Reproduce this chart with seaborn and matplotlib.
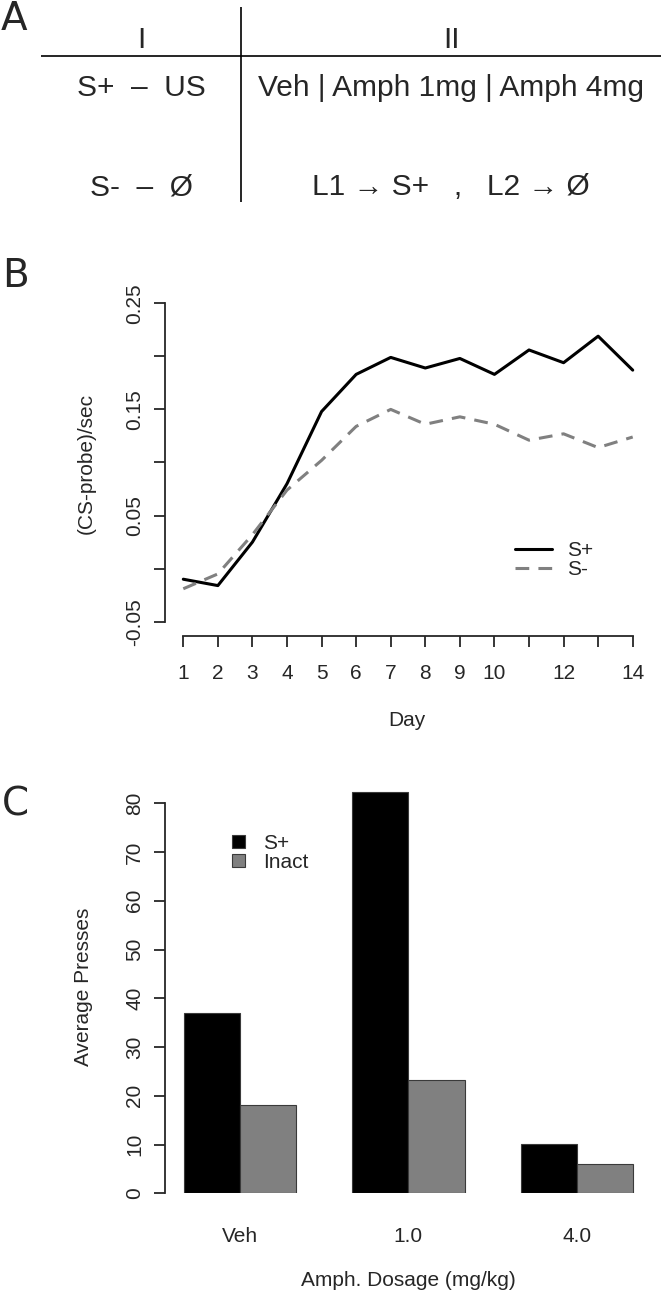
import numpy as np
import pandas as pd
import seaborn as sns
import matplotlib.pyplot as plt

W, H = 661, 1290  # figure size in pixels (dpi 100)

# Panel A: design table
phase_headers = ['I', 'II']
phase1_rows = ['S+  \u2013  US', 'S-  \u2013  \u00d8']
phase2_rows = ['Veh | Amph 1mg | Amph 4mg', 'L1 \u2192 S+   ,   L2 \u2192 \u00d8']

# Panel B: conditioning curves
days = list(range(1, 15))
splus_rate = [-0.010, -0.016, 0.025, 0.080, 0.148, 0.183, 0.199,
              0.189, 0.198, 0.183, 0.206, 0.194, 0.219, 0.187]
sminus_rate = [-0.019, -0.005, 0.032, 0.074, 0.102, 0.134, 0.150,
               0.136, 0.143, 0.136, 0.121, 0.127, 0.114, 0.124]
day_labels = ['1', '2', '3', '4', '5', '6', '7', '8', '9', '10', '', '12', '', '14']
rate_ticks = [-0.05, 0.0, 0.05, 0.10, 0.15, 0.20, 0.25]
rate_labels = ['-0.05', '', '0.05', '', '0.15', '', '0.25']

# Panel C: test presses
doses = ['Veh', '1.0', '4.0']
splus_presses = [37.0, 82.3, 10.1]
inact_presses = [18.1, 23.3, 6.0]
press_ticks = [0, 10, 20, 30, 40, 50, 60, 70, 80]

FS = 15  # tick / label font size


def fig_box(x0, y0, x1, y1):
    # pixel box (top-left origin) -> figure fraction rect
    return [x0 / W, 1 - y1 / H, (x1 - x0) / W, (y1 - y0) / H]


sns.set_style('ticks')
plt.rcParams['font.family'] = ['Liberation Sans', 'DejaVu Sans']
plt.rcParams['font.size'] = FS
plt.rcParams['axes.linewidth'] = 1.3
plt.rcParams['xtick.major.width'] = 1.3
plt.rcParams['ytick.major.width'] = 1.3
plt.rcParams['xtick.major.size'] = 8
plt.rcParams['ytick.major.size'] = 8

fig = plt.figure(figsize=(W / 100, H / 100), dpi=100)
fig.patch.set_facecolor('white')

# ---------------- Panel A ----------------
ax_a = fig.add_axes([0, 1 - 220 / H, 1, 220 / H])
ax_a.set_xlim(0, W)
ax_a.set_ylim(220, 0)
ax_a.axis('off')
ax_a.plot([41, W], [56, 56], color='black', lw=1.2, solid_capstyle='butt')
ax_a.plot([241, 241], [7, 202], color='black', lw=1.2, solid_capstyle='butt')
col_x = [141, 451]
row_y = [88, 187]
for cx, head in zip(col_x, phase_headers):
    ax_a.text(cx, 40, head, ha='center', va='center', fontsize=21.5)
for ry, t1, t2 in zip(row_y, phase1_rows, phase2_rows):
    ax_a.text(col_x[0], ry, t1, ha='center', va='center', fontsize=21.5)
    ax_a.text(col_x[1], ry, t2, ha='center', va='center', fontsize=21.5)

# ---------------- Panel B ----------------
ax_b = fig.add_axes(fig_box(165, 290, 650, 636))
df_b = pd.DataFrame({
    'Day': days * 2,
    'rate': splus_rate + sminus_rate,
    'cue': ['S+'] * len(days) + ['S-'] * len(days),
})
sns.lineplot(data=df_b, x='Day', y='rate', hue='cue', style='cue',
             palette={'S+': 'black', 'S-': '#808080'},
             dashes={'S+': '', 'S-': (4.5, 3)},
             linewidth=2.2, ax=ax_b)
ax_b.set_xlim(0.4706, 14.5)
ax_b.set_ylim(-0.0635, 0.2625)
sns.despine(ax=ax_b)
ax_b.spines['left'].set_bounds(-0.05, 0.25)
ax_b.spines['bottom'].set_bounds(1, 14)
ax_b.set_xticks(days, day_labels)
ax_b.set_yticks(rate_ticks, rate_labels, rotation=90, va='center')
ax_b.tick_params(axis='x', pad=12, labelsize=FS)
ax_b.tick_params(axis='y', pad=7, labelsize=FS)
ax_b.set_xlabel('Day', fontsize=FS, va='center')
ax_b.set_ylabel('(CS-probe)/sec', fontsize=FS, va='center')
ax_b.xaxis.set_label_coords(0.499, -0.243)
ax_b.yaxis.set_label_coords(-0.163, 0.5)
h, l = ax_b.get_legend_handles_labels()
keep = [(hh, ll) for hh, ll in zip(h, l) if ll in ('S+', 'S-')]
ax_b.legend([k[0] for k in keep], [k[1] for k in keep], loc='upper left',
            bbox_to_anchor=(515 / W, 1 - 541 / H), bbox_transform=fig.transFigure,
            frameon=False, borderpad=0, borderaxespad=0, handlelength=1.76,
            handletextpad=0.74, labelspacing=0.0, fontsize=FS)

# ---------------- Panel C ----------------
ax_c = fig.add_axes(fig_box(165, 780, 650, 1193.3))
df_c = pd.DataFrame({
    'dose': doses * 2,
    'presses': splus_presses + inact_presses,
    'lever': ['S+'] * len(doses) + ['Inact'] * len(doses),
})
sns.barplot(data=df_c, x='dose', y='presses', hue='lever',
            palette={'S+': 'black', 'Inact': '#808080'}, saturation=1,
            width=0.667, edgecolor='#3a3a3a', linewidth=0.8, ax=ax_c)
ax_c.set_xlim(-0.445, 2.434)
ax_c.set_ylim(0, 84.78)
sns.despine(ax=ax_c, bottom=True)
ax_c.spines['left'].set_bounds(0, 80)
ax_c.set_yticks(press_ticks, [str(t) for t in press_ticks], rotation=90, va='center')
ax_c.tick_params(axis='x', length=0, pad=24, labelsize=FS)
ax_c.tick_params(axis='y', pad=7, labelsize=FS)
ax_c.set_xlabel('Amph. Dosage (mg/kg)', fontsize=FS, va='center')
ax_c.set_ylabel('Average Presses', fontsize=FS, va='center')
ax_c.xaxis.set_label_coords(0.501, -0.21)
ax_c.yaxis.set_label_coords(-0.169, 0.5)
h, l = ax_c.get_legend_handles_labels()
ax_c.legend(h, l, loc='upper left',
            bbox_to_anchor=(231.7 / W, 1 - 834 / H), bbox_transform=fig.transFigure,
            frameon=False, borderpad=0, borderaxespad=0, handlelength=0.63,
            handleheight=0.63, handletextpad=0.86, labelspacing=0.0, fontsize=FS)

# panel letters
fig.text(1 / W, 1.0, 'A', ha='left', va='top', fontsize=28, family='DejaVu Sans')
for letter, ly in zip(['B', 'C'], [287, 816]):
    fig.text(2 / W, 1 - ly / H, letter, ha='left', va='baseline',
             fontsize=28, family='DejaVu Sans')

fig.savefig('out.png', dpi=100, facecolor='white')
